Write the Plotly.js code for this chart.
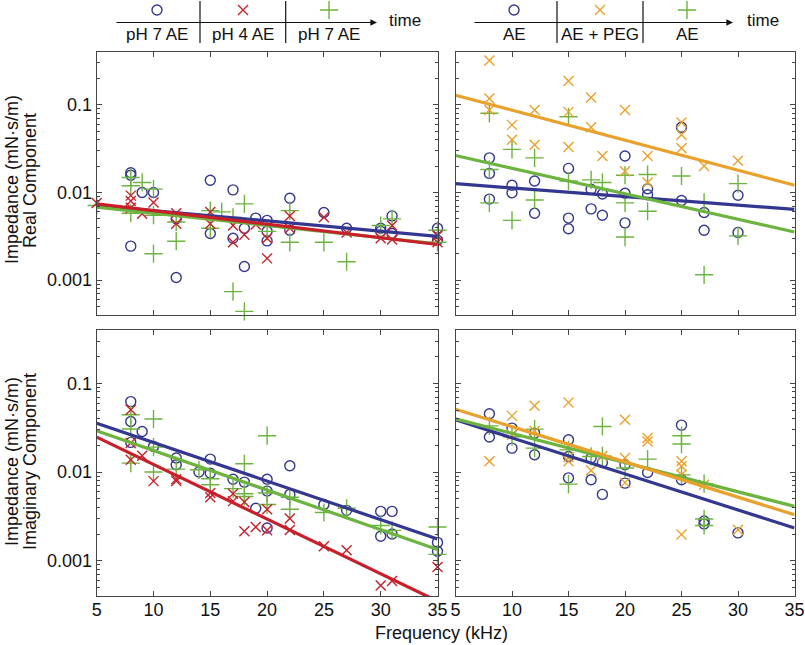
<!DOCTYPE html>
<html><head><meta charset="utf-8">
<script src="https://cdn.plot.ly/plotly-3.0.1.min.js"></script>
<style>html,body{margin:0;padding:0;background:#fff}#chart{width:805px;height:645px}</style>
</head><body><div id="chart"></div><script>
// ---------- data (frequency kHz, impedance mN·s/m) ----------
const tickF = [5, 10, 15, 20, 25, 30, 35];
const tickZ = [0.001, 0.01, 0.1];
const tickZText = ['0.001', '0.01', '0.1'];
const fitF = [5, 35];

// Real component, pH experiment
const realPh7aF = [8,8,8,9,10,12,12,15,15,17,17,18,18,19,20,20,20,22,22,25,27,30,30,31,31,35,35];
const realPh7aZ = [0.0168,0.0157,0.00244,0.0100,0.0100,0.00107,0.0050,0.0138,0.0034,0.0107,0.0030,0.00143,0.0039,0.0051,0.0048,0.0036,0.0028,0.0086,0.0037,0.0059,0.0039,0.0039,0.0036,0.0054,0.0034,0.0039,0.00285];
const realPh4F = [5,8,8,8,9,10,12,12,15,15,17,17,18,19,20,20,22,22,25,27,30,31,31,35,35];
const realPh4Z = [0.0076,0.0092,0.0080,0.0067,0.0057,0.0077,0.0058,0.0044,0.0060,0.0044,0.0042,0.0027,0.0033,0.0043,0.0030,0.00177,0.0054,0.0039,0.0052,0.0035,0.0030,0.0042,0.0029,0.0032,0.0027];
const realPh7bF = [5,8,8,8,9,10,10,10,12,12,15,15,16,17,17,18,18,20,22,22,25,27,30,31,35,35];
const realPh7bZ = [0.0071,0.0148,0.0119,0.0058,0.0130,0.0109,0.0055,0.0020,0.0046,0.00278,0.0062,0.0039,0.0060,0.0052,0.00074,0.0074,0.00044,0.0036,0.0062,0.0027,0.0027,0.00162,0.0042,0.0050,0.0037,0.0027];
const realPh7aFit = [0.0071, 0.00316];
const realPh4Fit = [0.0074, 0.00255];
const realPh7bFit = [0.0068, 0.0026];

// Real component, PEG experiment
const realAeaF = [8,8,8,10,10,12,12,15,15,15,17,17,18,18,20,20,20,22,22,25,25,27,27,30,30];
const realAeaZ = [0.0248,0.0165,0.0084,0.0121,0.0099,0.0135,0.0058,0.0188,0.0051,0.00386,0.0109,0.0065,0.0096,0.0055,0.026,0.0098,0.0045,0.0110,0.0094,0.0555,0.0081,0.0059,0.0037,0.0093,0.0035];
const realPegF = [8,8,8,10,10,12,12,15,15,15,17,17,18,20,20,22,22,25,25,25,27,30];
const realPegZ = [0.319,0.118,0.087,0.059,0.040,0.087,0.035,0.187,0.083,0.033,0.121,0.0555,0.026,0.087,0.0175,0.026,0.013,0.0627,0.0455,0.032,0.020,0.023];
const realAebF = [8,8,8,10,10,12,12,15,15,17,18,20,20,20,22,22,25,27,27,30,30];
const realAebZ = [0.080,0.0183,0.0076,0.031,0.0048,0.0248,0.0082,0.073,0.0135,0.0139,0.013,0.0157,0.0076,0.0031,0.016,0.0061,0.0154,0.0077,0.00115,0.0126,0.0032];
const realAeaFit = [0.0126, 0.0064];
const realPegFit = [0.1285, 0.0121];
const realAebFit = [0.0264, 0.00354];

// Imaginary component, pH experiment
const imagPh7aF = [8,8,8,9,10,12,12,14,15,15,17,18,19,20,20,20,22,22,25,27,30,30,31,31,35,35];
const imagPh7aZ = [0.0623,0.0372,0.0216,0.0287,0.0194,0.0144,0.0121,0.0100,0.0140,0.0097,0.0083,0.0077,0.0039,0.0083,0.0061,0.00234,0.0118,0.0056,0.0043,0.0037,0.0036,0.00189,0.0036,0.0020,0.00161,0.00128];
const imagPh4F = [8,8,8,9,10,12,12,15,15,17,17,18,18,19,20,20,22,22,25,27,30,31,35];
const imagPh4Z = [0.0503,0.0212,0.0138,0.0153,0.0079,0.0083,0.0079,0.0058,0.0052,0.0057,0.0047,0.0046,0.00215,0.0024,0.0038,0.0022,0.0030,0.00222,0.00146,0.00131,0.000525,0.00059,0.00085];
const imagPh7bF = [8,8,8,10,10,10,12,14,15,15,17,18,18,18,20,20,20,22,22,25,27,30,31,35,35];
const imagPh7bZ = [0.0442,0.0306,0.0126,0.0396,0.0191,0.0100,0.0108,0.0106,0.0084,0.0072,0.0065,0.0124,0.0057,0.0053,0.0257,0.0058,0.0043,0.0052,0.0038,0.0035,0.0039,0.0025,0.0022,0.0024,0.00118];
const imagPh7aFit = [0.0356, 0.00176];
const imagPh4Fit = [0.0248, 0.00035];
const imagPh7bFit = [0.0292, 0.00134];

// Imaginary component, PEG experiment
const imagAeaF = [8,8,10,10,12,12,15,15,15,17,17,18,18,20,20,22,25,25,27,27,30];
const imagAeaZ = [0.0454,0.0248,0.0313,0.0186,0.0275,0.0157,0.0231,0.0150,0.0086,0.0144,0.0082,0.0128,0.0056,0.0121,0.0075,0.0099,0.0338,0.0082,0.0028,0.0026,0.00206];
const imagPegF = [8,10,10,12,12,15,15,15,17,18,20,20,20,22,22,25,25,25,25,27,30];
const imagPegZ = [0.0132,0.043,0.0263,0.0558,0.029,0.0608,0.0148,0.0132,0.0104,0.0152,0.0388,0.0144,0.0076,0.0242,0.0221,0.0132,0.0116,0.0093,0.00197,0.0072,0.00224];
const imagAebF = [8,10,12,12,15,15,17,18,18,20,22,25,25,25,27,27,27];
const imagAebZ = [0.0332,0.025,0.0305,0.0186,0.0178,0.0073,0.015,0.0327,0.0152,0.0111,0.014,0.0257,0.0207,0.0093,0.0074,0.00296,0.0025];
const imagAeaFit = [0.0388, 0.00234];
const imagPegFit = [0.0512, 0.0033];
const imagAebFit = [0.0398, 0.0041];

// header labels
const phLabels = ['pH 7 AE', 'pH 4 AE', 'pH 7 AE'];
const pegLabels = ['AE', 'AE + PEG', 'AE'];

// ---------- styling ----------
const BLUE = '#34378f', RED = '#c8202a', GREEN = '#6cb33f', ORANGE = '#e9a12b';
const SYM = {o: 'circle-open', x: 'x-thin-open', p: 'cross-thin-open'};
const SIZE = {o: 10, x: 10, p: 13};
const W = 805, H = 645;
const px = v => v / W;
const py = v => 1 - v / H;
const FONT = 'Liberation Sans, Arial, Helvetica, sans-serif';

function pts(x, y, s, color, xa, ya) {
  return {type: 'scatter', mode: 'markers', x: x, y: y, xaxis: xa, yaxis: ya,
    cliponaxis: false, hoverinfo: 'skip',
    marker: {symbol: SYM[s], size: SIZE[s], color: color, line: {color: color, width: 1.4}}};
}
function fit(y, color, xa, ya) {
  return {type: 'scatter', mode: 'lines', x: fitF, y: y, xaxis: xa, yaxis: ya,
    hoverinfo: 'skip', line: {color: color, width: 3.2}};
}

const traces = [
  pts(realPh7aF, realPh7aZ, 'o', BLUE, 'x', 'y'),
  pts(realPh7bF, realPh7bZ, 'p', GREEN, 'x', 'y'),
  pts(realPh4F, realPh4Z, 'x', RED, 'x', 'y'),
  fit(realPh7aFit, BLUE, 'x', 'y'),
  fit(realPh7bFit, GREEN, 'x', 'y'),
  fit(realPh4Fit, RED, 'x', 'y'),

  pts(realAeaF, realAeaZ, 'o', BLUE, 'x2', 'y2'),
  pts(realAebF, realAebZ, 'p', GREEN, 'x2', 'y2'),
  pts(realPegF, realPegZ, 'x', ORANGE, 'x2', 'y2'),
  fit(realAeaFit, BLUE, 'x2', 'y2'),
  fit(realAebFit, GREEN, 'x2', 'y2'),
  fit(realPegFit, ORANGE, 'x2', 'y2'),

  pts(imagPh7aF, imagPh7aZ, 'o', BLUE, 'x3', 'y3'),
  pts(imagPh7bF, imagPh7bZ, 'p', GREEN, 'x3', 'y3'),
  pts(imagPh4F, imagPh4Z, 'x', RED, 'x3', 'y3'),
  fit(imagPh7aFit, BLUE, 'x3', 'y3'),
  fit(imagPh7bFit, GREEN, 'x3', 'y3'),
  fit(imagPh4Fit, RED, 'x3', 'y3'),

  pts(imagAeaF, imagAeaZ, 'o', BLUE, 'x4', 'y4'),
  pts(imagAebF, imagAebZ, 'p', GREEN, 'x4', 'y4'),
  pts(imagPegF, imagPegZ, 'x', ORANGE, 'x4', 'y4'),
  fit(imagAeaFit, BLUE, 'x4', 'y4'),
  fit(imagAebFit, GREEN, 'x4', 'y4'),
  fit(imagPegFit, ORANGE, 'x4', 'y4'),
];

// header markers (overlay pixel axes x5/y5)
const hdrX = [157, 243, 329, 514, 600, 687];
const hdrY = [10, 10, 10, 10, 10, 10];
const hdrSym = ['o', 'x', 'p', 'o', 'x', 'p'];
const hdrCol = [BLUE, RED, GREEN, BLUE, ORANGE, GREEN];
hdrX.forEach((x, i) => traces.push(pts([x], [hdrY[i]], hdrSym[i], hdrCol[i], 'x5', 'y5')));

// minor log ticks
const minorZ = [];
for (let e = -4; e <= -1; e++) for (let d = 2; d <= 9; d++) minorZ.push(d * Math.pow(10, e));

const LC = '#444';
function xax(dom, anchor, labels) {
  return {domain: dom, anchor: anchor, range: [5, 35], tickmode: 'array', tickvals: tickF,
    showticklabels: labels, ticks: 'inside', ticklen: 5, tickwidth: 1, tickcolor: LC,
    ticklabeloverflow: 'allow', ticklabelstandoff: -3,
    showline: true, linecolor: LC, linewidth: 1, mirror: 'allticks', showgrid: false,
    zeroline: false, fixedrange: true, tickfont: {size: 18, family: FONT, color: '#111'}};
}
function yax(dom, anchor, labels) {
  return {domain: dom, anchor: anchor, type: 'log', range: [Math.log10(0.0004), Math.log10(0.4)],
    tickmode: 'array', tickvals: tickZ, ticktext: tickZText,
    showticklabels: labels, ticks: 'inside', ticklen: 5, tickwidth: 1, tickcolor: LC,
    minor: {tickmode: 'array', tickvals: minorZ, ticks: 'inside', ticklen: 3, tickcolor: LC, showgrid: false},
    showline: true, linecolor: LC, linewidth: 1, mirror: 'allticks', showgrid: false,
    zeroline: false, fixedrange: true, tickfont: {size: 18, family: FONT, color: '#111'}};
}

const xL = [px(96.7), px(437.5)], xR = [px(455.5), px(794.5)];
const yT = [py(315), py(52)], yB = [py(596), py(330)];

const annotations = [];
const shapes = [];
function txt(x, y, t, opts) {
  annotations.push(Object.assign({xref: 'x5', yref: 'y5', x: x, y: y, text: t, showarrow: false,
    xanchor: 'center', yanchor: 'middle', font: {size: 18, family: FONT, color: '#111'}}, opts || {}));
}
// header: arrows, dividers, labels
function header(x0, x1, divs, centers, labels, timeX) {
  annotations.push({xref: 'x5', yref: 'y5', axref: 'x5', ayref: 'y5', x: x1, y: 22.5, ax: x0, ay: 22.5,
    text: '', showarrow: true, arrowhead: 2, arrowsize: 1.1, arrowwidth: 1.2, arrowcolor: '#111'});
  divs.forEach(d => shapes.push({type: 'line', xref: 'x5', yref: 'y5', x0: d, x1: d, y0: 1, y1: 43,
    line: {color: '#111', width: 1.2}}));
  labels.forEach((l, i) => txt(centers[i], 34, l, {font: {size: 17, family: FONT, color: '#111'}}));
  txt(timeX, 20, 'time', {font: {size: 17, family: FONT, color: '#111'}});
}
header(115, 377, [200, 285.7], [157, 243, 329], phLabels, 405);
header(473, 733, [557, 643], [514, 600, 687], pegLabels, 763);

// axis titles
txt(12, 180, 'Impedance (mN·s/m)', {textangle: -90});
txt(30, 181, 'Real Component', {textangle: -90});
txt(12, 462, 'Impedance (mN·s/m)', {textangle: -90});
txt(30, 462, 'Imaginary Component', {textangle: -90});
txt(441, 633, 'Frequency (kHz)');

const layout = {
  width: W, height: H, margin: {l: 0, r: 0, t: 0, b: 0}, showlegend: false,
  paper_bgcolor: '#ffffff', plot_bgcolor: 'rgba(0,0,0,0)',
  font: {family: FONT, size: 18, color: '#111'},
  xaxis: xax(xL, 'y', false), yaxis: yax(yT, 'x', true),
  xaxis2: xax(xR, 'y2', false), yaxis2: yax(yT, 'x2', false),
  xaxis3: xax(xL, 'y3', true), yaxis3: yax(yB, 'x3', true),
  xaxis4: xax(xR, 'y4', true), yaxis4: yax(yB, 'x4', false),
  xaxis5: {domain: [0, 1], anchor: 'y5', range: [0, W], visible: false, fixedrange: true},
  yaxis5: {domain: [0, 1], anchor: 'x5', range: [H, 0], visible: false, fixedrange: true},
  annotations: annotations, shapes: shapes
};

Plotly.newPlot('chart', traces, layout, {staticPlot: true, displayModeBar: false});
</script></body></html>
